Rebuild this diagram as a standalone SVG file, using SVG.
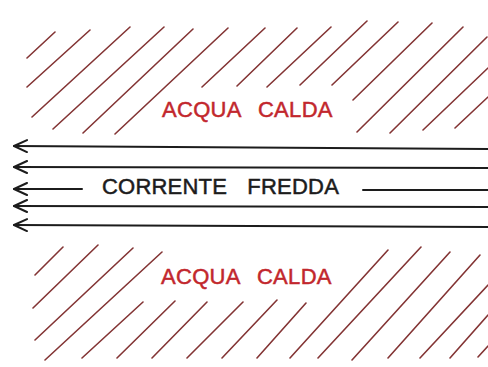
<svg xmlns="http://www.w3.org/2000/svg" width="488" height="367" viewBox="0 0 488 367">
<style>
.h{stroke:#833434;stroke-width:1.6;stroke-linecap:round;fill:none}
.a{stroke:#1c1c1c;stroke-width:2;fill:none;stroke-linecap:round}
.hot{font-family:"Liberation Sans",Arial,sans-serif;font-size:22px;fill:#c2272d;stroke:#c2272d;stroke-width:0.5;word-spacing:11px;letter-spacing:0.3px}
.cold{font-family:"Liberation Sans",Arial,sans-serif;font-size:22px;fill:#1c1c1c;stroke:#1c1c1c;stroke-width:0.5;word-spacing:14px;letter-spacing:0.2px}
</style>
<defs>
<marker id="chev" markerUnits="userSpaceOnUse" viewBox="0 0 16 14" markerWidth="16" markerHeight="14" refX="14" refY="7" orient="auto">
<path d="M1,1 L14,7 L1,13" fill="none" stroke="#1c1c1c" stroke-width="2" stroke-linecap="round" stroke-linejoin="round"/>
</marker>
</defs>
<rect width="488" height="367" fill="#ffffff"/>
<g id="hot-top">
<path class="h" d="M27,58L55,32M27,87L90,30M32,117L130,27M53,129L164,27M83,133L193,29M115,134L228,28M202,87L265,28M237,86L297,28M267,87L331,27M300,85L367,21M332,85L398,22M353,100L432,23M357,132L463,27M390,133L487,37M423,130L488,68M455,128L488,97"/>
<text class="hot" x="162" y="117">ACQUA CALDA</text>
</g>
<g id="hot-bottom">
<path class="h" d="M35,275L63,247M33,308L98,245M35,340L133,248M45,360L162,252M82,358L143,302M117,358L175,301M152,358L207,302M187,358L243,302M222,358L277,300M257,358L306,303M290,358L388,250M318,358L421,247M352,360L450,252M388,358L480,255M420,358L488,285M450,358L488,315M478,357L488,346"/>
<text class="hot" x="161" y="284">ACQUA CALDA</text>
</g>
<g id="cold-current">
<text class="cold" x="102" y="194">CORRENTE FREDDA</text>
</g>
<g id="connectors">
<path class="a" marker-end="url(#chev)" d="M488,149L14,146"/>
<path class="a" marker-end="url(#chev)" d="M488,168L14,167"/>
<path class="a" marker-end="url(#chev)" d="M82,189L14,189"/>
<path class="a" d="M363,190L488,190"/>
<path class="a" marker-end="url(#chev)" d="M488,207L14,206"/>
<path class="a" marker-end="url(#chev)" d="M488,227L14,225"/>
</g>
</svg>
